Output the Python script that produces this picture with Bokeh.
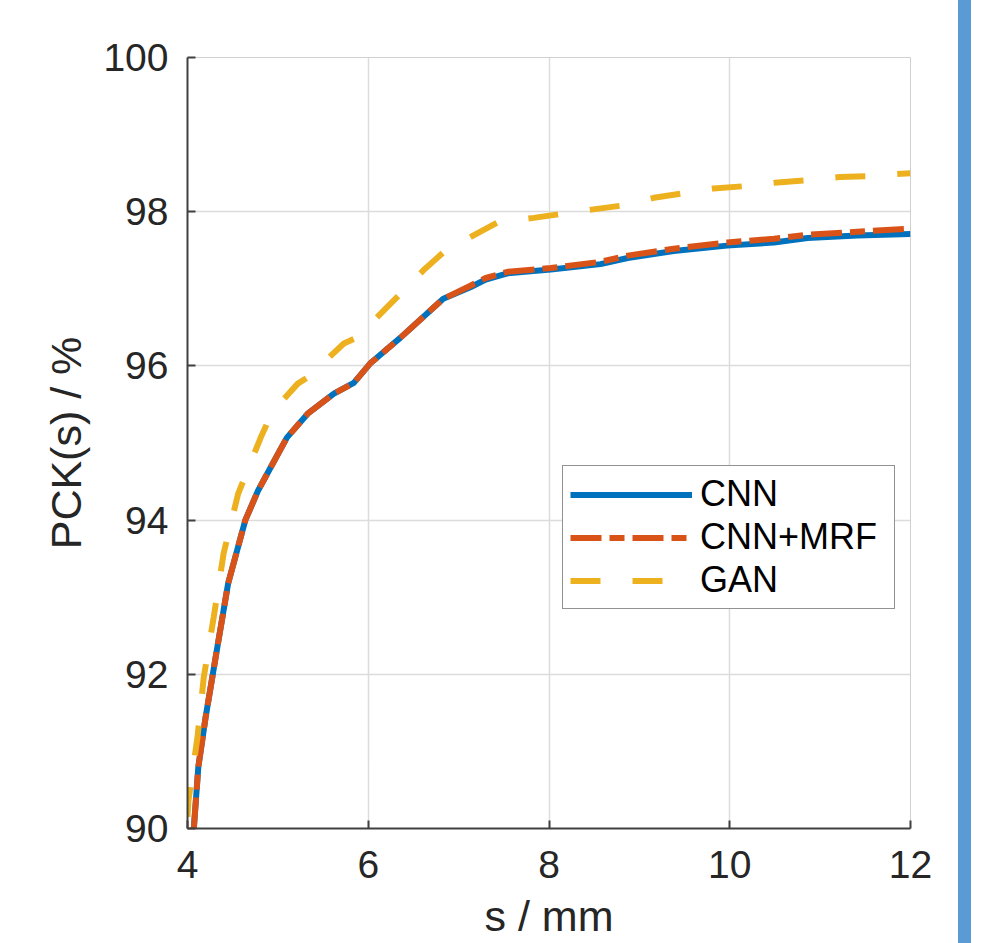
from bokeh.plotting import figure
from bokeh.models import Legend, LegendItem, Range1d, FixedTicker, Div
from bokeh.layouts import row
from bokeh.embed import file_html
from bokeh.resources import INLINE

# ---- data ----
cnn_x = [4.07, 4.12, 4.20, 4.28, 4.33, 4.45, 4.64, 4.78, 4.90, 5.10, 5.33, 5.62, 5.84, 6.02,
         6.36, 6.66, 6.83, 7.13, 7.30, 7.54, 8.02, 8.57, 8.87, 9.38, 9.97, 10.49, 10.86, 11.41, 12.0]
cnn_y = [90.0, 90.8, 91.44, 92.0, 92.35, 93.18, 94.0, 94.38, 94.64, 95.07, 95.38, 95.64, 95.78, 96.03,
         96.37, 96.69, 96.87, 97.02, 97.12, 97.20, 97.25, 97.32, 97.40, 97.49, 97.56, 97.60, 97.66, 97.69, 97.71]

mrf_x = cnn_x
mrf_y = [90.0, 90.8, 91.44, 92.0, 92.35, 93.18, 94.0, 94.38, 94.64, 95.07, 95.38, 95.64, 95.78, 96.03,
         96.37, 96.69, 96.87, 97.04, 97.14, 97.22, 97.27, 97.35, 97.43, 97.52, 97.60, 97.65, 97.70, 97.74, 97.78]

gan_x = [4.0, 4.01, 4.11, 4.18, 4.29, 4.40, 4.56, 4.70, 4.81, 4.88, 5.05, 5.22, 5.33, 5.73, 5.88,
         6.14, 6.36, 6.61, 6.83, 7.16, 7.43, 7.83, 8.13, 8.49, 8.81, 9.16, 9.49, 9.82, 10.15,
         10.53, 10.86, 11.22, 11.52, 12.0]
gan_y = [90.15, 90.36, 91.18, 91.96, 92.74, 93.57, 94.34, 94.75, 95.07, 95.25, 95.55, 95.77, 95.85, 96.29, 96.37,
         96.68, 96.94, 97.24, 97.47, 97.69, 97.86, 97.92, 97.97, 98.03, 98.08, 98.18, 98.24, 98.30, 98.33,
         98.38, 98.41, 98.45, 98.46, 98.5]

x_ticks = [4, 6, 8, 10, 12]
y_ticks = [90, 92, 94, 96, 98, 100]
series_names = ["CNN", "CNN+MRF", "GAN"]

FONT = "Liberation Sans"
TXT = "#262626"

p = figure(width=958, height=943, output_backend="svg", toolbar_location=None,
           x_range=Range1d(4, 12), y_range=Range1d(90, 100),
           min_border_left=187, min_border_right=48, min_border_top=57, min_border_bottom=115)

p.background_fill_color = "white"
p.border_fill_color = "white"
p.outline_line_color = "#d0d0d0"
p.outline_line_width = 1

for ax in (p.xaxis[0], p.yaxis[0]):
    ax.axis_line_color = "#404040"
    ax.axis_line_width = 2
    ax.major_tick_line_color = "#404040"
    ax.major_tick_line_width = 2
    ax.major_tick_in = 8
    ax.major_tick_out = 0
    ax.minor_tick_line_color = None
    ax.major_label_text_font = FONT
    ax.major_label_text_font_size = "39px"
    ax.major_label_text_color = TXT
    ax.axis_label_text_font = FONT
    ax.axis_label_text_font_size = "43px"
    ax.axis_label_text_font_style = "normal"
    ax.axis_label_text_color = TXT

p.xaxis.ticker = FixedTicker(ticks=x_ticks)
p.yaxis.ticker = FixedTicker(ticks=y_ticks)
p.xaxis.axis_label = "s / mm"
p.yaxis.axis_label = "PCK(s) / %"
p.xaxis.major_label_standoff = 22
p.yaxis.major_label_standoff = 19
p.xaxis.axis_label_standoff = 11
p.yaxis.axis_label_standoff = 10

p.xgrid.grid_line_color = "#dcdcdc"
p.ygrid.grid_line_color = "#dcdcdc"
p.xgrid.grid_line_width = 1.5
p.ygrid.grid_line_width = 1.5

r1 = p.line(cnn_x, cnn_y, line_color="#0072BD", line_width=6, line_join="round")
r2 = p.line(mrf_x, mrf_y, line_color="#D95319", line_width=6, line_dash="31 8 15 8", line_cap="butt")
r3 = p.line(gan_x, gan_y, line_color="#EDB120", line_width=6, line_dash="30 32", line_cap="butt")

legend = Legend(items=[LegendItem(label=series_names[0], renderers=[r1]),
                       LegendItem(label=series_names[1], renderers=[r2]),
                       LegendItem(label=series_names[2], renderers=[r3])],
                location=(375, 219))
legend.label_text_font = FONT
legend.label_text_font_size = "36px"
legend.label_text_color = "black"
legend.glyph_width = 122
legend.glyph_height = 39
legend.label_height = 39
legend.label_standoff = 8
legend.label_width = 187
legend.spacing = 1
legend.padding = 7
legend.margin = 0
legend.border_line_color = "#262626"
legend.border_line_width = 1.5
legend.background_fill_color = "white"
legend.background_fill_alpha = 1
p.add_layout(legend)

bar = Div(width=13, height=943, margin=0, styles={"background-color": "#5B9BD5"})

layout = row(p, bar)
open("out.html", "w").write(file_html(layout, INLINE))
